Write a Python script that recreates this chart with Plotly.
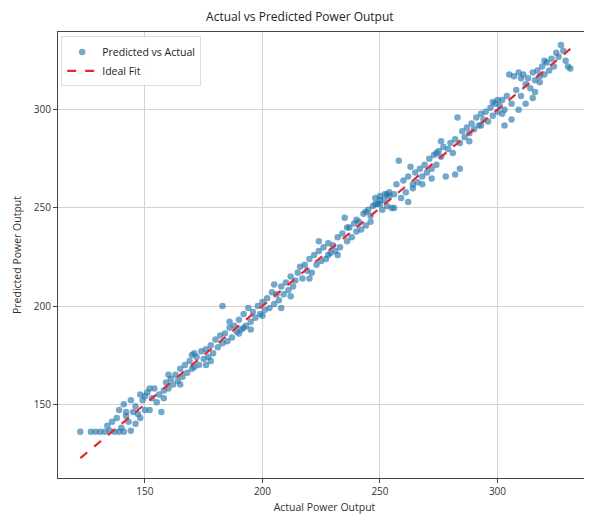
import plotly.graph_objects as go

actual = [122.5,127,129,131,133,135,137,139,141,144,134,136,138,140,142,143,145,146,147,148,
          139,141,144,146,149,150,152,155,157,148,151,153,154,156,158,159,160,161,162,163,
          164,165,166,167,168,169,170,171,172,173,174,175,176,177,178,179,180,181,182,183,
          183,184,185,186,187,188,189,190,191,192,193,194,195,196,197,198,199,200,201,202,
          203,204,205,206,207,208,209,210,211,212,213,214,215,216,217,218,219,220,221,222,
          223,224,225,226,227,228,229,230,231,232,233,234,235,236,237,238,239,240,241,242,
          243,244,245,246,247,248,249,250,251,252,253,254,255,256,257,258,259,260,261,262,
          263,264,265,266,267,268,269,270,271,272,273,274,275,276,277,278,279,280,281,282,
          283,284,285,286,287,288,289,290,291,292,293,294,295,296,297,298,299,300,301,302,
          303,304,305,306,307,308,309,310,311,312,313,314,315,316,317,318,319,320,321,322,
          323,324,325,326,327,328,329,330,331,282,284,303,306,309,312,315,316,192,208,250,
          252,248,246,254,176,171,160,152,
          165,170,178,186,195,205,212,220,228,236,244,250,253,256,262,268,274,288,293,298,
          302,310,318,320,224,232,240,158,150,142,200,190,300,264,276,272]
predicted = [136,136,136,136,136,136.5,136,136,136,136.5,139,141,143,138,144,141,146,140,145,143,
             147,150,152,149,152,147,147,151,146,155,156,153,158,155,157,161,158,163,160,165,
             162,168,164,170,166,172,168,169,174,170,177,173,178,174,180,176,183,179,185,181,
             200,186,182,189,184,190,187,193,188,196,190,199,192,197,194,200,196,202,198,204,
             199,207,201,206,203,210,206,212,208,215,210,213,217,220,214,221,218,224,217,226,
             221,228,223,230,224,232,227,231,228,235,230,237,245,233,240,235,242,238,243,239,
             247,241,249,243,251,255,252,256,249,254,251,258,250,257,262,274,255,264,258,253,
             271,262,268,263,270,266,272,268,275,270,277,272,279,276,281,266,280,283,278,285,
             296,283,289,286,291,288,293,290,296,292,298,295,299,294,301,297,303,299,302,305,
             300,307,318,303,317,310,319,307,318,313,316,311,319,315,320,317,322,318,324,320,
             326,322,329,327,333,330,325,322,321,267,270,292,295,300,303,306,309,189,199,254,
             257,252,246,256,170,176,165,158,
             160,175,172,192,188,211,205,214,226,240,248,252,257,250,266,262,278,284,292,304,
             298,316,314,325,233,226,244,153,154,146,195,186,305,260,284,265]

fit_x = [min(actual), max(actual)]
fit_y = [min(actual), max(actual)]

fig = go.Figure()
fig.add_trace(go.Scatter(
    x=actual, y=predicted, mode="markers", name="Predicted vs Actual",
    marker=dict(size=6.5, color="rgba(30,115,170,0.62)", line=dict(width=0)),
))
fig.add_trace(go.Scatter(
    x=fit_x, y=fit_y, mode="lines", name="Ideal Fit",
    line=dict(color="#df2a3a", width=2.2, dash="dash"),
))

axis_common = dict(
    showline=True, linecolor="#444", linewidth=1, mirror=True,
    showgrid=True, gridcolor="#d3d3d3", gridwidth=1,
    ticks="outside", ticklen=4, tickcolor="#444",
    tickfont=dict(size=10, color="#333", family="Open Sans"),
    zeroline=False,
)

# page body has an 8px margin, so the margins below are offset by 8px
fig.update_layout(
    width=592, height=523,
    margin=dict(l=43, r=8, t=24, b=53),
    paper_bgcolor="white", plot_bgcolor="white",
    title=dict(text="Actual vs Predicted Power Output", x=0.493, xanchor="center",
               y=0.983, yanchor="middle",
               font=dict(size=12, color="#222", family="Open Sans")),
    xaxis=dict(range=[113, 339.8], tickvals=[150, 200, 250, 300],
               title=dict(text="Actual Power Output", standoff=6,
                          font=dict(size=10.5, color="#333", family="Open Sans")),
               **axis_common),
    yaxis=dict(range=[112.4, 339.6], tickvals=[150, 200, 250, 300],
               title=dict(text="Predicted Power Output", standoff=10,
                          font=dict(size=10.5, color="#333", family="Open Sans")),
               **axis_common),
    legend=dict(x=0.006, y=0.99, xanchor="left", yanchor="top",
                bgcolor="rgba(255,255,255,0.9)", bordercolor="#ddd", borderwidth=1,
                font=dict(size=10.5, color="#222", family="Open Sans"), itemwidth=30),
    showlegend=True,
)

fig.write_html("out.html")
